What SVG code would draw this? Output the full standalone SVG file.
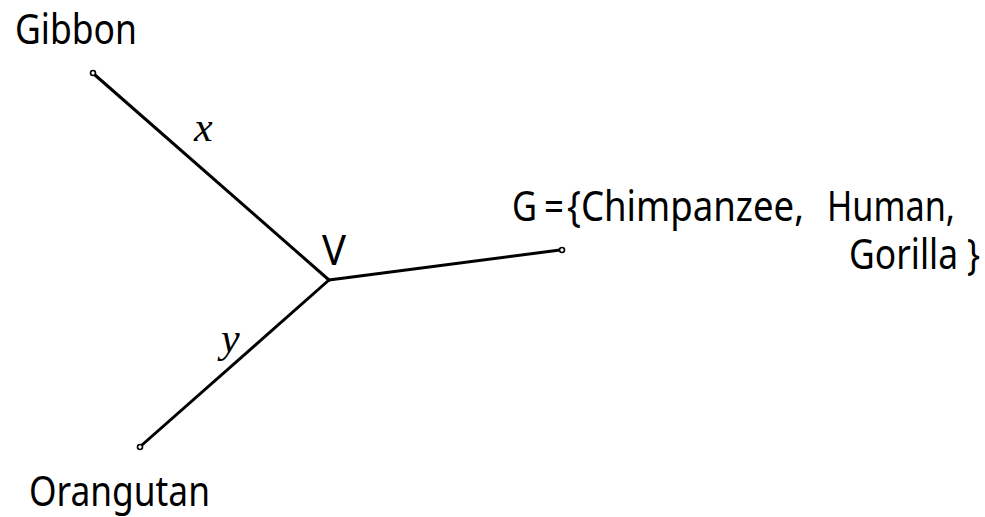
<svg xmlns="http://www.w3.org/2000/svg" width="985" height="517" viewBox="0 0 985 517">
<style>
.lbl{font-family:"Noto Sans","Open Sans",sans-serif;font-size:42px;fill:#000}
.var{font-family:"Liberation Serif",serif;font-style:italic;font-size:42px;fill:#000}
.edge{stroke:#000;stroke-width:3;fill:none;stroke-linecap:round}
.tip{fill:#fff;stroke:#000;stroke-width:1.6}
</style>
<rect width="985" height="517" fill="#fff"/>
<g id="connectors">
<line class="edge" x1="329" y1="280" x2="95" y2="75"/>
<line class="edge" x1="329" y1="280" x2="560" y2="250"/>
<line class="edge" x1="329" y1="280" x2="142" y2="445"/>
<text class="var" x="194" y="141">x</text>
<text class="var" x="221" y="352">y</text>
</g>
<g id="gibbon">
<circle class="tip" cx="93" cy="73" r="2.5"/>
<text class="lbl" x="15" y="44" textLength="122" lengthAdjust="spacingAndGlyphs">Gibbon</text>
</g>
<g id="orangutan">
<circle class="tip" cx="140" cy="447" r="2.5"/>
<text class="lbl" x="29" y="506" textLength="181" lengthAdjust="spacingAndGlyphs">Orangutan</text>
</g>
<g id="v">
<text class="lbl" x="322" y="265" textLength="24" lengthAdjust="spacingAndGlyphs">V</text>
</g>
<g id="g">
<circle class="tip" cx="562" cy="250" r="2.5"/>
<text class="lbl" x="512" y="221" textLength="25" lengthAdjust="spacingAndGlyphs">G</text>
<text class="lbl" x="544" y="221" textLength="20" lengthAdjust="spacingAndGlyphs">=</text>
<text class="lbl" x="567" y="221" textLength="237" lengthAdjust="spacingAndGlyphs">{Chimpanzee,</text>
<text class="lbl" x="827" y="221" textLength="128" lengthAdjust="spacingAndGlyphs">Human,</text>
<text class="lbl" x="849" y="269" textLength="109" lengthAdjust="spacingAndGlyphs">Gorilla</text>
<text class="lbl" x="967" y="269" textLength="13" lengthAdjust="spacingAndGlyphs">}</text>
</g>
</svg>
